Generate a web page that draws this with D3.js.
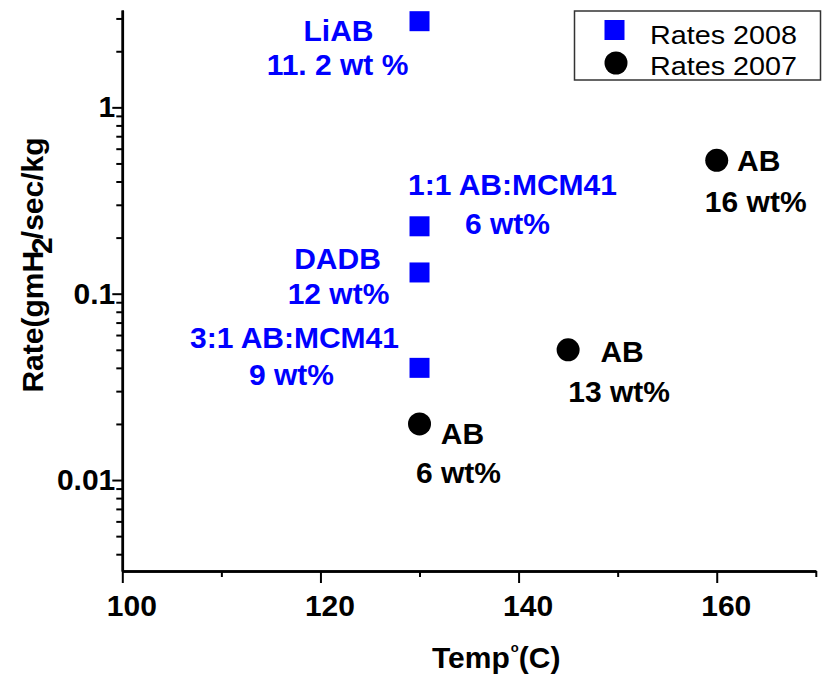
<!DOCTYPE html>
<html>
<head>
<meta charset="utf-8">
<script src="https://cdn.jsdelivr.net/npm/d3@7"></script>
<style>
  html, body { margin: 0; padding: 0; background: #fff; }
  svg { display: block; }
  text { font-family: "Liberation Sans", Arial, sans-serif; }
</style>
</head>
<body>
<div id="chart"></div>
<script>
// ---------------- data ----------------
const seriesNames = ["Rates 2008", "Rates 2007"];

// 2008 (blue squares)
const temps2008 = [130, 130, 130, 130];
const rates2008 = [2.9, 0.23, 0.13, 0.040];
const labels2008 = [
    ["LiAB", "11. 2 wt %"],
    ["1:1 AB:MCM41", "6 wt%"],
    ["DADB", "12 wt%"],
    ["3:1 AB:MCM41", "9 wt%"]
];

// 2007 (black circles)
const temps2007 = [130, 145, 160];
const rates2007 = [0.020, 0.050, 0.52];
const labels2007 = [
    ["AB", "6 wt%"],
    ["AB", "13 wt%"],
    ["AB", "16 wt%"]
];

const xMajorTicks = [100, 120, 140, 160];
const xMinorTicks = [110, 130, 150, 170];
const yMajorTicks = [0.01, 0.1, 1];
const yTickLabels = ["0.01", "0.1", "1"];

// label placement relative to each marker (layout only)
const offsets2008 = [
    [[-81, 20], [-82, 54]],
    [[93, -31], [88, 8]],
    [[-82, -3], [-81, 32]],
    [[-125, -20], [-128, 17]]
];
const offsets2007 = [
    [[43, 20], [39, 59]],
    [[54, 12], [51, 52]],
    [[42, 11], [39, 52]]
];

// ---------------- layout ----------------
const width = 822;
const height = 680;
const blue = "#0000ff";

const x = d3.scaleLinear().domain([100, 170]).range([122.3, 815.8]);
const y = d3.scaleLog().domain([0.00325, 3.33]).range([571, 10]);

const svg = d3.select("#chart").append("svg")
    .attr("width", width)
    .attr("height", height);

// minor log ticks: 2..9 in each decade inside the domain
const yMinorTicks = [];
for (const dec of [0.001, 0.01, 0.1, 1]) {
    for (let k = 2; k <= 9; k++) {
        const v = dec * k;
        if (v >= y.domain()[0] && v <= y.domain()[1]) yMinorTicks.push(v);
    }
}

// ---------------- axes ----------------
const xAxisG = svg.append("g").attr("transform", `translate(0,${y.range()[0]})`);
xAxisG.call(d3.axisBottom(x).tickValues(xMinorTicks).tickSize(6).tickSizeOuter(0).tickFormat(""));
xAxisG.call(g => g.append("g").call(
    d3.axisBottom(x).tickValues(xMajorTicks).tickSize(12).tickPadding(12).tickSizeOuter(0).tickFormat(d3.format("d"))
));
xAxisG.selectAll(".tick text").attr("dx", 9);

const yAxisG = svg.append("g").attr("transform", `translate(${x.range()[0]},0)`);
yAxisG.call(d3.axisLeft(y).tickValues(yMinorTicks).tickSize(6).tickSizeOuter(0).tickFormat(""));
yAxisG.call(g => g.append("g").call(
    d3.axisLeft(y).tickValues(yMajorTicks).tickSize(10).tickPadding(-3).tickSizeOuter(0)
        .tickFormat((d, i) => yTickLabels[i])
));

svg.selectAll(".domain").attr("stroke", "#000").attr("stroke-width", 2.5);
svg.selectAll(".tick line").attr("stroke", "#000").attr("stroke-width", 2);
svg.selectAll(".tick text")
    .attr("fill", "#000")
    .style("font-size", "30px")
    .style("font-weight", "bold");

// axis titles
const yTitle = svg.append("text")
    .attr("transform", "translate(43,265) rotate(-90)")
    .attr("text-anchor", "middle")
    .style("font-size", "30px")
    .style("font-weight", "bold")
    .attr("fill", "#000");
yTitle.append("tspan").text("Rate(gmH");
yTitle.append("tspan").attr("dx", -3).attr("dy", 9).text("2");
yTitle.append("tspan").attr("dx", -2).attr("dy", -9).text("/sec/kg");

const xTitle = svg.append("text")
    .attr("x", 432)
    .attr("y", 668)
    .style("font-size", "30px")
    .style("font-weight", "bold")
    .attr("fill", "#000");
xTitle.append("tspan").text("Temp");
xTitle.append("tspan").attr("dx", 1).attr("dy", -16).style("font-size", "13px").text("o");
xTitle.append("tspan").attr("dx", 0).attr("dy", 16).text("(C)");

// ---------------- marks ----------------
const pts2008 = temps2008.map((t, i) => ({ t, r: rates2008[i], lab: labels2008[i], off: offsets2008[i] }));
const pts2007 = temps2007.map((t, i) => ({ t, r: rates2007[i], lab: labels2007[i], off: offsets2007[i] }));

const sq = 20;
svg.append("g").selectAll("rect")
    .data(pts2008)
    .join("rect")
    .attr("x", d => x(d.t) - sq / 2)
    .attr("y", d => y(d.r) - sq / 2)
    .attr("width", sq)
    .attr("height", sq)
    .attr("fill", blue);

svg.append("g").selectAll("circle")
    .data(pts2007)
    .join("circle")
    .attr("cx", d => x(d.t))
    .attr("cy", d => y(d.r))
    .attr("r", 11.5)
    .attr("fill", "#000");

function drawLabels(data, color) {
    const g = svg.append("g");
    data.forEach(d => {
        d.lab.forEach((line, j) => {
            g.append("text")
                .attr("x", x(d.t) + d.off[j][0])
                .attr("y", y(d.r) + d.off[j][1])
                .attr("text-anchor", "middle")
                .style("font-size", "30px")
                .style("font-weight", "bold")
                .attr("fill", color)
                .text(line);
        });
    });
}
drawLabels(pts2008, blue);
drawLabels(pts2007, "#000");

// ---------------- legend ----------------
const legend = svg.append("g");
legend.append("rect")
    .attr("x", 574.5)
    .attr("y", 11)
    .attr("width", 246)
    .attr("height", 69)
    .attr("fill", "none")
    .attr("stroke", "#333")
    .attr("stroke-width", 1.5);

legend.append("rect")
    .attr("x", 604.5).attr("y", 20)
    .attr("width", 20).attr("height", 20)
    .attr("fill", blue);
legend.append("circle")
    .attr("cx", 616).attr("cy", 63).attr("r", 11.5)
    .attr("fill", "#000");

legend.selectAll("text.leg")
    .data(seriesNames)
    .join("text")
    .attr("class", "leg")
    .attr("x", 650)
    .attr("y", (d, i) => i === 0 ? 43.5 : 75)
    .attr("textLength", 147)
    .attr("lengthAdjust", "spacingAndGlyphs")
    .style("font-size", "25px")
    .attr("fill", "#000")
    .text(d => d);
</script>
</body>
</html>
